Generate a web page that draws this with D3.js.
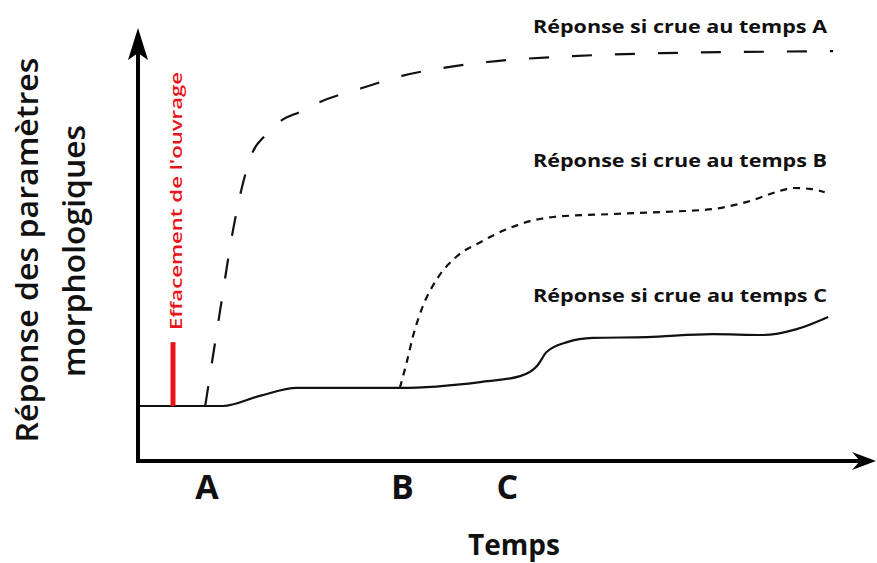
<!DOCTYPE html>
<html>
<head>
<meta charset="utf-8">
<script src="https://cdn.jsdelivr.net/npm/d3@7"></script>
<style>
    body { margin: 0; background: #fff; }
    text { font-family: "Open Sans", sans-serif; fill: #111; }
</style>
</head>
<body>
<div id="chart"></div>
<script>
// values (time and response in arbitrary units, 0-100)
const responseA = [[9.6, 13.1], [11.7, 35.5], [13.6, 55.2], [14.9, 65.5], [16.4, 73.6], [18.1, 77.4],
    [20.6, 81.2], [23.1, 83.1], [26.0, 85.5], [32.0, 88.8], [37.7, 91.7], [43.6, 93.6], [49.9, 95.0],
    [62.1, 96.4], [74.6, 97.1], [87.0, 97.4], [99.3, 97.6]];
const responseB = [[37.4, 17.4], [38.4, 23.6], [39.3, 29.8], [40.7, 36.9], [42.7, 43.3], [45.6, 48.8],
    [48.9, 52.1], [52.7, 55.2], [56.0, 57.1], [59.3, 58.1], [67.9, 58.8], [75.0, 59.3], [82.1, 60.0],
    [87.0, 61.7], [91.7, 64.3], [93.6, 65.0], [96.0, 64.8], [98.1, 64.0]];
const responseC = [[0, 13.1], [12.1, 13.1], [17.4, 15.5], [22.7, 17.4], [37.4, 17.4], [48.9, 18.8],
    [54.6, 20.2], [57.0, 22.6], [58.4, 26.0], [61.3, 28.3], [65.0, 29.3], [72.7, 29.5], [82.1, 30.2],
    [89.3, 30.0], [94.1, 31.4], [98.6, 34.3]];

const seriesNames = ["Réponse si crue au temps A", "Réponse si crue au temps B", "Réponse si crue au temps C"];
const timeLabels = ["A", "B", "C"];
const timeTicks = [9.8, 37.7, 52.7];

// removal of the structure
const removalTime = 5.0;
const removalRange = [13.1, 28.3];

const totalWidth = 877, totalHeight = 563;

const svg = d3.select("#chart").append("svg")
    .attr("width", totalWidth)
    .attr("height", totalHeight);

// scales
const x = d3.scaleLinear().domain([0, 100]).range([138, 838]);
const y = d3.scaleLinear().domain([0, 100]).range([461, 41]);

const line = d3.line()
    .x(d => x(d[0]))
    .y(d => y(d[1]))
    .curve(d3.curveMonotoneX);

// curves
const curves = [
    {data: responseA, dash: "20,23", name: seriesNames[0], labelY: 33},
    {data: responseB, dash: "7,6", name: seriesNames[1], labelY: 167},
    {data: responseC, dash: null, name: seriesNames[2], labelY: 302}
];

svg.selectAll(".curve")
    .data(curves)
    .join("path")
    .attr("class", "curve")
    .attr("d", d => line(d.data))
    .attr("fill", "none")
    .attr("stroke", "#111")
    .attr("stroke-width", 2.2)
    .attr("stroke-dasharray", d => d.dash);

svg.selectAll(".curve-label")
    .data(curves)
    .join("text")
    .attr("class", "curve-label")
    .attr("x", 827)
    .attr("y", d => d.labelY)
    .attr("text-anchor", "end")
    .attr("font-size", 18)
    .attr("font-weight", "bold")
    .attr("textLength", 294)
    .attr("lengthAdjust", "spacingAndGlyphs")
    .text(d => d.name);

// red marker for "Effacement de l'ouvrage"
svg.append("line")
    .attr("x1", x(removalTime)).attr("x2", x(removalTime))
    .attr("y1", y(removalRange[0])).attr("y2", y(removalRange[1]))
    .attr("stroke", "#e8141b")
    .attr("stroke-width", 5);

svg.append("text")
    .attr("transform", `translate(${x(removalTime) + 9}, 330) rotate(-90)`)
    .attr("font-size", 17)
    .attr("font-weight", 600)
    .attr("textLength", 258)
    .attr("lengthAdjust", "spacingAndGlyphs")
    .style("fill", "#e8141b")
    .text("Effacement de l'ouvrage");

// axes with arrow heads
const x0 = x(0), y0 = y(0);
svg.append("line")
    .attr("x1", x0).attr("y1", y0 + 2)
    .attr("x2", x0).attr("y2", 50)
    .attr("stroke", "#000").attr("stroke-width", 4);
svg.append("line")
    .attr("x1", x0 - 2).attr("y1", y0)
    .attr("x2", 860).attr("y2", y0)
    .attr("stroke", "#000").attr("stroke-width", 4);

svg.append("path")
    .attr("d", `M${x0},28 L${x0 + 10},60 L${x0},53 L${x0 - 10},60 Z`)
    .attr("fill", "#000");
svg.append("path")
    .attr("d", `M876,${y0} L852,${y0 + 9} L860,${y0} L852,${y0 - 9} Z`)
    .attr("fill", "#000");

// time labels A, B, C
const xAxis = d3.axisBottom(x)
    .tickValues(timeTicks)
    .tickFormat((d, i) => timeLabels[i])
    .tickSize(0)
    .tickPadding(14);

const gx = svg.append("g")
    .attr("transform", `translate(0, ${y0})`)
    .call(xAxis);
gx.select(".domain").remove();
gx.selectAll("text")
    .attr("font-size", 34)
    .attr("font-weight", "bold")
    .attr("font-family", "Open Sans, sans-serif")
    .style("fill", "#111");

// axis titles
svg.append("text")
    .attr("x", 514)
    .attr("y", 555)
    .attr("text-anchor", "middle")
    .attr("font-size", 28)
    .attr("font-weight", "bold")
    .text("Temps");

svg.append("text")
    .attr("transform", "translate(38, 250) rotate(-90)")
    .attr("text-anchor", "middle")
    .attr("font-size", 30)
    .attr("font-weight", 600)
    .attr("textLength", 385)
    .attr("lengthAdjust", "spacingAndGlyphs")
    .text("Réponse des paramètres");

svg.append("text")
    .attr("transform", "translate(85, 251) rotate(-90)")
    .attr("text-anchor", "middle")
    .attr("font-size", 30)
    .attr("font-weight", 600)
    .attr("textLength", 252)
    .attr("lengthAdjust", "spacingAndGlyphs")
    .text("morphologiques");
</script>
</body>
</html>
